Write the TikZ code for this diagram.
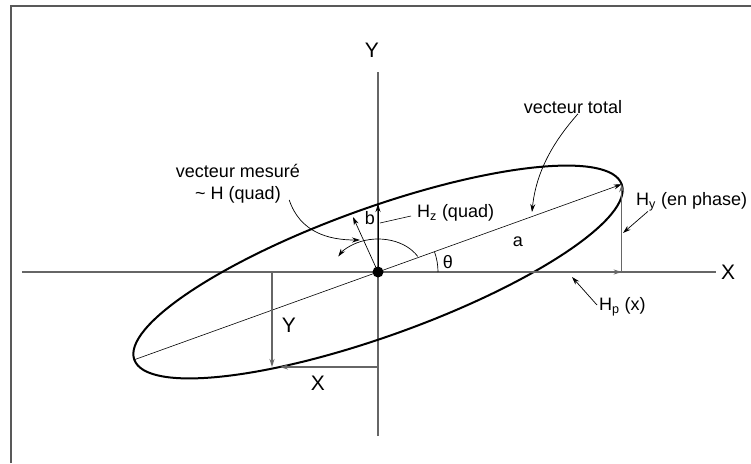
\documentclass[tikz,border=0pt]{standalone}
\usepackage{fontspec}
\setmainfont{Liberation Sans}
\usetikzlibrary{arrows.meta,calc}

\begin{document}
\begin{tikzpicture}[
  x=1pt, y=1pt,
  lbl/.style={font=\fontsize{18}{22}\selectfont,inner sep=1pt},
  biglbl/.style={font=\fontsize{21}{24}\selectfont,inner sep=1pt},
  axis/.style={draw=black!60,line width=1.4pt},
  frameline/.style={draw=black!65,line width=1.8pt},
  loop/.style={line width=2pt},
  arrow/.style={-{Stealth[length=8pt,width=5pt]},line width=0.7pt},
  garrow/.style={arrow,draw=black!60,fill=black!60,line width=1.2pt},
]
\useasboundingbox (-378,-191) rectangle (373,272);
% frame, only top and left show
\draw[frameline] (-367,-191) -- (-367,266) -- (373,266);

% axes
\coordinate (O) at (0,0);
\coordinate (xl) at (-356,0);
\coordinate (xr) at (338,0);
\coordinate (yb) at (0,-164);
\coordinate (yt) at (0,200);
\draw[axis] (xl) -- (xr);
\draw[axis] (yb) -- (yt);
\node[biglbl,anchor=west] (xlab) at (342,0) {X};
\node[biglbl] (ylab) at (-6,222) {Y};

% the ellipse and its axes
\draw[loop,rotate=19.8] (O) ellipse [x radius=259, y radius=64];
\coordinate (tipR) at (19.8:259);
\coordinate (tipL) at (199.8:259);
\draw[arrow,line width=0.6pt] (tipL) -- (tipR);
\coordinate (hx) at (tipR |- O);
\draw[garrow] (O) -- (hx);
\draw[garrow] (hx) -- (tipR);
\coordinate (btop) at (0,68);
\draw[arrow] (O) -- (btop);
\coordinate (bvec) at (-25,55);
\draw[arrow] (O) -- (bvec);
\fill (O) circle (5.5);

% angles
\draw[arrow] (28:45 and 33) arc [start angle=28, end angle=152, x radius=45, y radius=33];
\draw[line width=0.7pt] (60,0) arc [start angle=0, end angle=19.8, radius=60];
\node[lbl] (theta) at (70,10) {θ};
\node[lbl] (alab) at (140,30) {a};
\node[lbl] (blab) at (-8,54) {b};

% labels with leaders
\node[lbl,anchor=west] (hz) at (38,59) {H\textsubscript{z} (quad)};
\coordinate (hzfoot) at (2,49);
\draw[line width=0.6pt] (hzfoot) -- ($(hz.west)+(-5,-3)$);

\node[lbl,align=center] (meas) at (-140,88) {vecteur mesuré\\\textasciitilde{} H (quad)};
\coordinate (measend) at (-18,32);
\draw[arrow] ($(meas.east)+(-12,-16)$) .. controls (-78,40) and (-50,32) .. (measend);

\node[lbl] (tot) at (195,165) {vecteur total};
\coordinate (totend) at (154,60);
\draw[arrow] ($(tot.south)+(5,1)$) .. controls (175,130) and (158,100) .. (totend);

\node[lbl,anchor=west] (hy) at (257,70) {H\textsubscript{y} (en phase)};
\coordinate (hyend) at (245,39);
\draw[arrow] ($(hy.south west)+(13,1)$) -- (hyend);

\node[lbl,anchor=west] (hp) at (220,-35) {H\textsubscript{p} (x)};
\coordinate (hpend) at (194,-5);
\draw[arrow] ($(hp.west)+(-1,2)$) -- (hpend);

% components of a point on the ellipse
\coordinate (py) at (-106,0);
\coordinate (pe) at (-106,-95);
\coordinate (px) at (0,-95);
\draw[garrow] (py) -- (pe);
\draw[garrow,shorten >=8pt] (px) -- (pe);
\node[biglbl] (ylow) at (-89,-53) {Y};
\node[biglbl] (xlow) at (-60,-111) {X};
\end{tikzpicture}
\end{document}
